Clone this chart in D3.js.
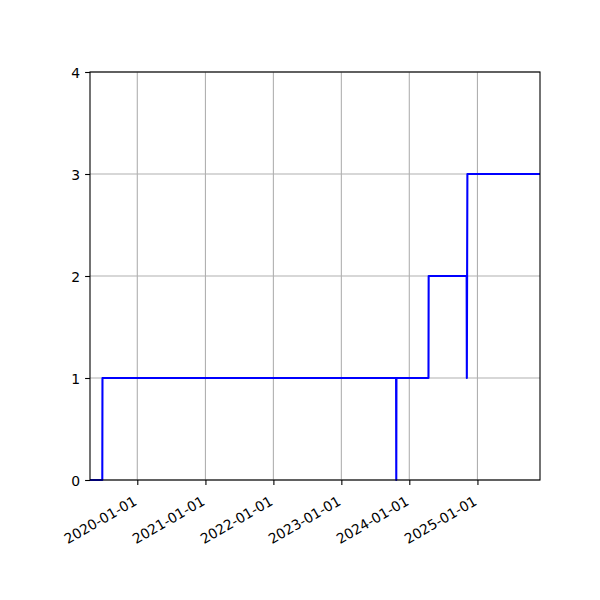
<!DOCTYPE html>
<html>
<head>
<meta charset="utf-8">
<script src="https://cdn.jsdelivr.net/npm/d3@7"></script>
<style>
  html, body { margin: 0; padding: 0; background: #fff; }
  svg { display: block; }
  text { font-family: "DejaVu Sans", sans-serif; font-size: 13.9px; fill: #000; }
</style>
</head>
<body>
<svg id="chart" width="600" height="600"></svg>
<script>
// ---- data ----
const dates  = ["2019-04-22","2019-06-27","2019-06-28","2023-10-22","2023-10-23","2023-10-24",
                "2024-04-13","2024-04-14","2024-11-04","2024-11-05","2024-11-08","2025-12-03"];
const values = [0, 0, 1, 1, 0, 1, 1, 2, 2, 1, 3, 3];
const xTickLabels = ["2020-01-01","2021-01-01","2022-01-01","2023-01-01","2024-01-01","2025-01-01"];
const yTicks = [0, 1, 2, 3, 4];
const xDomain = ["2019-04-22", "2025-12-03"];
const yDomain = [0, 4];

// ---- layout ----
const L = 90, R = 540, T = 72, B = 480;
const parse = d3.utcParse("%Y-%m-%d");
const fmt = d3.utcFormat("%Y-%m-%d");

const x = d3.scaleUtc().domain(xDomain.map(parse)).range([L, R]);
const y = d3.scaleLinear().domain(yDomain).range([B, T]);

const svg = d3.select("#chart");
const gridColor = "#b0b0b0";
const xTickDates = xTickLabels.map(parse);

// grid
svg.append("g").selectAll("line").data(xTickDates).join("line")
  .attr("x1", d => x(d)).attr("x2", d => x(d)).attr("y1", T).attr("y2", B)
  .attr("stroke", gridColor).attr("stroke-width", 1.1);
svg.append("g").selectAll("line").data(yTicks).join("line")
  .attr("x1", L).attr("x2", R).attr("y1", d => y(d)).attr("y2", d => y(d))
  .attr("stroke", gridColor).attr("stroke-width", 1.1);

// line
const pts = dates.map((d, i) => [parse(d), values[i]]);
svg.append("path")
  .datum(pts)
  .attr("fill", "none")
  .attr("stroke", "#0000ff")
  .attr("stroke-width", 2.08)
  .attr("stroke-linejoin", "round")
  .attr("d", d3.line().x(d => x(d[0])).y(d => y(d[1])));

// axes
const xAxis = svg.append("g").attr("transform", `translate(0,${B})`)
  .call(d3.axisBottom(x).tickValues(xTickDates).tickFormat(fmt).tickSize(4.9).tickSizeOuter(0));
xAxis.select(".domain").remove();
xAxis.selectAll(".tick line").attr("stroke", "#000").attr("stroke-width", 1.1);
xAxis.selectAll(".tick text")
  .attr("x", null).attr("y", null).attr("dy", null)
  .attr("text-anchor", "end")
  .attr("transform", "translate(0,24) rotate(-30)")
  .style("font-family", "DejaVu Sans").style("font-size", "13.9px");

const yAxis = svg.append("g").attr("transform", `translate(${L},0)`)
  .call(d3.axisLeft(y).tickValues(yTicks).tickFormat(d3.format("d")).tickSize(4.9).tickPadding(4.9).tickSizeOuter(0));
yAxis.select(".domain").remove();
yAxis.selectAll(".tick line").attr("stroke", "#000").attr("stroke-width", 1.1);
yAxis.selectAll(".tick text")
  .attr("dy", "0.36em")
  .style("font-family", "DejaVu Sans").style("font-size", "13.9px");

// spines
svg.append("rect")
  .attr("x", L).attr("y", T).attr("width", R - L).attr("height", B - T)
  .attr("fill", "none").attr("stroke", "#000").attr("stroke-width", 1.1);
</script>
</body>
</html>
